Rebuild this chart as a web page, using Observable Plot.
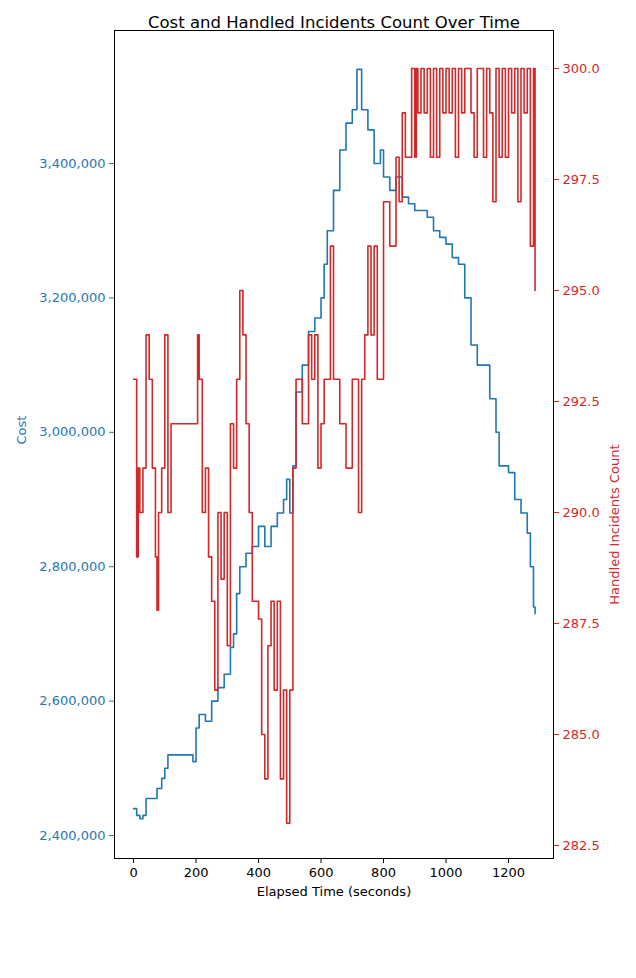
<!DOCTYPE html>
<html>
<head>
<meta charset="utf-8">
<script src="https://cdn.jsdelivr.net/npm/d3@7"></script>
<script src="https://cdn.jsdelivr.net/npm/@observablehq/plot@0.6"></script>
<style>body{margin:0;background:#fff;font-family:"DejaVu Sans",sans-serif}</style>
</head>
<body>
<div id="chart"></div>
<script>
/* global d3, Plot */
// Cost series (elapsed seconds, cost in thousands)
const costTime = [0,10,20,30,40,70,75,90,100,110,120,190,200,210,230,250,270,290,310,320,330,340,360,380,400,420,440,460,480,490,500,510,520,540,560,580,600,610,620,640,660,680,700,715,730,750,770,790,800,820,840,860,880,900,920,940,960,980,1000,1020,1040,1060,1080,1100,1120,1140,1160,1170,1200,1220,1240,1260,1270,1280,1285];
const costK = [2440,2430,2425,2430,2455,2455,2470,2485,2500,2520,2520,2510,2560,2580,2570,2600,2620,2640,2680,2700,2760,2800,2820,2830,2860,2830,2860,2880,2900,2930,2880,2950,3060,3100,3150,3170,3200,3250,3300,3360,3420,3460,3480,3540,3480,3450,3400,3420,3380,3360,3380,3350,3340,3330,3330,3320,3300,3290,3280,3260,3250,3200,3130,3100,3100,3050,3000,2950,2940,2900,2880,2850,2800,2740,2730];
// Handled incidents count series
const countTime = [0,10,15,20,30,40,50,60,70,75,80,90,100,110,120,200,205,210,220,230,240,250,260,270,280,290,300,310,320,330,340,350,360,370,380,400,410,420,430,440,450,460,470,480,490,500,510,520,540,560,570,580,590,600,610,630,640,660,680,700,720,730,740,750,760,770,780,800,820,840,850,860,870,880,890,900,905,910,920,930,940,950,960,970,980,990,1000,1010,1020,1030,1040,1050,1060,1080,1090,1100,1110,1120,1130,1140,1150,1160,1170,1180,1190,1200,1210,1220,1230,1240,1250,1260,1270,1280,1285];
const count = [293,289,291,290,291,294,293,291,289,287.8,290,291,294,290,292,292,294,293,290,291,289,288,286,290,288.5,290,287,292,291,293,295,294,292,290,288,287.6,285,284,287,288,286,288,284,286,283,286,291,293,292,294,293,294,291,292,293,296,293,292,291,293,290,293,294,296,294,296,293,297,296,298,297,299,298,298,300,298,300,299,300,299,300,298,300,298,300,299,300,299,300,298,300,299,300,299,298,300,300,298,300,299,297,300,298,300,298,300,299,300,297,300,299,300,296,300,295];
const xTicks = [0,200,400,600,800,1000,1200];
const costTicks = [2400000,2600000,2800000,3000000,3200000,3400000];
const countTicks = [282.5,285,287.5,290,292.5,295,297.5,300];

const blue = "#1f77b4", red = "#d62728";
// map count onto the cost scale so both share the frame
const toCost = n => 2400000 + (835 - 68 - (300 - n) * 44.4) / 0.000672;
const fromCost = v => 300 - (835 - 68 - (v - 2400000) * 0.000672) / 44.4;

const costData = costTime.map((t, i) => ({t, v: costK[i] * 1000}));
const countData = countTime.map((t, i) => ({t, v: toCost(count[i])}));

const chart = Plot.plot({
  width: 636,
  height: 978,
  marginTop: 30,
  marginBottom: 120,
  marginLeft: 114,
  marginRight: 83,
  style: {fontFamily: "DejaVu Sans, sans-serif", fontSize: "13px"},
  x: {domain: [-61, 1344]},
  y: {domain: [2365800, 3597900]},
  marks: [
    Plot.lineY(costData, {x: "t", y: "v", stroke: blue, strokeWidth: 1.6, curve: "step-after"}),
    Plot.lineY(countData, {x: "t", y: "v", stroke: red, strokeWidth: 1.6, curve: "step-after"}),
    Plot.frame({stroke: "black"}),
    Plot.axisX(xTicks, {tickSize: 5, fontSize: 13, label: null, tickFormat: d => String(d)}),
    Plot.axisY(costTicks, {anchor: "left", tickSize: 5, color: blue, fontSize: 13, label: null, tickFormat: d3.format(",")}),
    Plot.axisY(countTicks.map(toCost), {anchor: "right", tickSize: 5, color: red, fontSize: 13, label: null, tickFormat: v => fromCost(v).toFixed(1)}),
    Plot.text(["Cost and Handled Incidents Count Over Time"], {frameAnchor: "top", dy: -14, fontSize: 16.5}),
    Plot.text(["Elapsed Time (seconds)"], {frameAnchor: "bottom", dy: 37, fontSize: 13}),
    Plot.text(["Cost"], {frameAnchor: "left", dx: -93, rotate: -90, fill: blue, fontSize: 13}),
    Plot.text(["Handled Incidents Count"], {frameAnchor: "right", dx: 61, rotate: -90, fill: red, fontSize: 13})
  ]
});
document.getElementById("chart").append(chart);
</script>
</body>
</html>
